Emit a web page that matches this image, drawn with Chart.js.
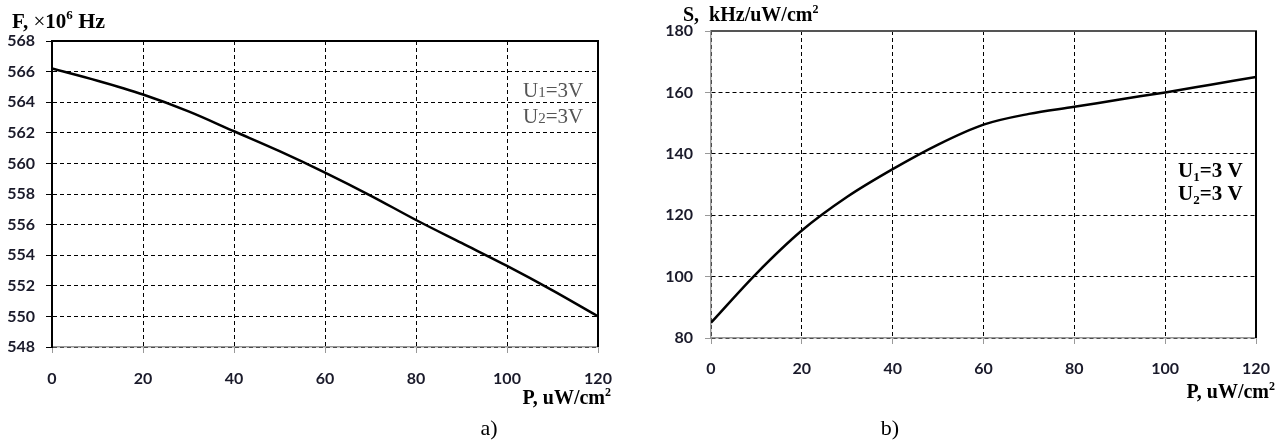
<!DOCTYPE html>
<html>
<head>
<meta charset="utf-8">
<script src="https://cdn.jsdelivr.net/npm/chart.js@4"></script>
<style>
html, body { margin: 0; padding: 0; background: #fff; overflow: hidden; }
#wrapA { position: absolute; left: 0; top: 0; width: 640px; height: 443px; }
#wrapB { position: absolute; left: 640px; top: 0; width: 646px; height: 443px; }
</style>
</head>
<body>
<div id="wrapA"><canvas id="chartA"></canvas></div>
<div id="wrapB"><canvas id="chartB"></canvas></div>
<script>
// light power, uW/cm2
const power = [0, 10, 20, 30, 40, 50, 60, 70, 80, 90, 100, 110, 120];
// a) frequency, x10^6 Hz
const freqA = [566.2, 565.4, 564.5, 563.4, 562.1, 560.8, 559.4, 557.9, 556.3, 554.8, 553.3, 551.7, 550.0];
// b) sensitivity, kHz/uW/cm2
const sensB = [85, 101, 115, 126, 135, 143, 149.5, 153, 155.3, 157.7, 160, 162.5, 165];

const xTicks = [0, 20, 40, 60, 80, 100, 120];
const yTicksA = [548, 550, 552, 554, 556, 558, 560, 562, 564, 566, 568];
const yTicksB = [80, 100, 120, 140, 160, 180];

const tickFont = { family: 'Lato', size: 16, weight: 'bold' };
const tickColor = '#1a1a2a';
const serif = '"Liberation Serif"';

// draws a line of text made of runs [text, font, dy]
function drawRuns(ctx, x, y, runs, align) {
  let w = 0;
  runs.forEach(r => { ctx.font = r[1]; w += ctx.measureText(r[0]).width; });
  let cx = align === 'right' ? x - w : align === 'center' ? x - w / 2 : x;
  runs.forEach(r => {
    ctx.font = r[1];
    ctx.fillText(r[0], cx, y + (r[2] || 0));
    cx += ctx.measureText(r[0]).width;
  });
}

const framePlugin = {
  id: 'frame',
  afterDraw(chart, args, opts) {
    const ctx = chart.ctx;
    const a = chart.chartArea;
    ctx.save();
    ctx.setLineDash([]);
    ctx.lineWidth = opts.topWidth;
    ctx.strokeStyle = opts.topColor;
    ctx.beginPath(); ctx.moveTo(a.left, a.top); ctx.lineTo(a.right + 1, a.top); ctx.stroke();
    ctx.lineWidth = 2;
    ctx.strokeStyle = '#000';
    ctx.beginPath(); ctx.moveTo(a.right, a.top); ctx.lineTo(a.right, a.bottom); ctx.stroke();
    ctx.textBaseline = 'alphabetic';
    opts.labels.forEach(l => {
      ctx.fillStyle = l.color || '#000';
      drawRuns(ctx, l.x, l.y, l.runs, l.align);
    });
    ctx.restore();
  }
};

function makeChart(id, values, yTicks, cfg) {
  return new Chart(document.getElementById(id), {
    type: 'line',
    data: {
      datasets: [{
        data: power.map((p, i) => ({ x: p, y: values[i] })),
        borderColor: '#000',
        borderWidth: 2.5,
        pointRadius: 0,
        fill: false,
        cubicInterpolationMode: 'monotone'
      }]
    },
    options: {
      responsive: true,
      maintainAspectRatio: false,
      animation: false,
      layout: { padding: cfg.padding },
      plugins: {
        legend: { display: false },
        tooltip: { enabled: false },
        frame: cfg.frame
      },
      scales: {
        x: {
          type: 'linear',
          min: 0, max: 120,
          afterBuildTicks: s => { s.ticks = xTicks.map(v => ({ value: v })); },
          afterFit: s => { s.height = cfg.xHeight; },
          grid: { color: '#000', lineWidth: 1, tickLength: 6, tickColor: '#999' },
          border: { color: '#999', width: 1.5, dash: [4, 3] },
          ticks: { padding: cfg.xPad, font: tickFont, color: tickColor, maxRotation: 0, autoSkip: false }
        },
        y: {
          min: yTicks[0], max: yTicks[yTicks.length - 1],
          afterBuildTicks: s => { s.ticks = yTicks.map(v => ({ value: v })); },
          afterFit: s => { s.width = cfg.yWidth; },
          grid: { color: '#000', lineWidth: 1, tickLength: 6, tickColor: cfg.yAxisColor },
          border: { color: cfg.yAxisColor, width: cfg.yAxisWidth, dash: [4, 3] },
          ticks: { padding: cfg.yPad, font: tickFont, color: tickColor, autoSkip: false }
        }
      }
    },
    plugins: [framePlugin]
  });
}

makeChart('chartA', freqA, yTicksA, {
  padding: { top: 41, right: 42, left: 0, bottom: 0 },
  xHeight: 96, yWidth: 52, xPad: 16, yPad: 11,
  yAxisColor: '#000', yAxisWidth: 2,
  frame: {
    topColor: '#000', topWidth: 2,
    labels: [
      { x: 12, y: 28, runs: [['F, ', 'bold 21px ' + serif], ['\u00d7', '21px ' + serif], ['10', 'bold 21px ' + serif], ['6', 'bold 13px ' + serif, -9], [' Hz', 'bold 22px ' + serif]] },
      { x: 611, y: 404, align: 'right', runs: [['P, uW/cm', 'bold 20px ' + serif], ['2', 'bold 12px ' + serif, -8]] },
      { x: 523, y: 97, color: '#555', runs: [['U', '21px ' + serif], ['1', '15px ' + serif], ['=3', '21px ' + serif], ['V', '21px ' + serif]] },
      { x: 523, y: 123, color: '#555', runs: [['U', '21px ' + serif], ['2', '15px ' + serif], ['=3', '21px ' + serif], ['V', '21px ' + serif]] },
      { x: 489, y: 435, align: 'center', runs: [['a)', '22px ' + serif]] }
    ]
  }
});

makeChart('chartB', sensB, yTicksB, {
  padding: { top: 31, right: 30, left: 0, bottom: 0 },
  xHeight: 105, yWidth: 71, xPad: 15, yPad: 12,
  yAxisColor: '#999', yAxisWidth: 1.5,
  frame: {
    topColor: '#555', topWidth: 2,
    labels: [
      { x: 43, y: 21, runs: [['S,  kHz/uW/cm', 'bold 20px ' + serif], ['2', 'bold 12px ' + serif, -8]] },
      { x: 635, y: 398, align: 'right', runs: [['P, uW/cm', 'bold 20px ' + serif], ['2', 'bold 12px ' + serif, -8]] },
      { x: 538, y: 177, runs: [['U', 'bold 21px ' + serif], ['1', 'bold 13px ' + serif, 4], ['=3 V', 'bold 21px ' + serif]] },
      { x: 538, y: 200, runs: [['U', 'bold 21px ' + serif], ['2', 'bold 13px ' + serif, 4], ['=3 V', 'bold 21px ' + serif]] },
      { x: 250, y: 435, align: 'center', runs: [['b)', '22px ' + serif]] }
    ]
  }
});
</script>
</body>
</html>
